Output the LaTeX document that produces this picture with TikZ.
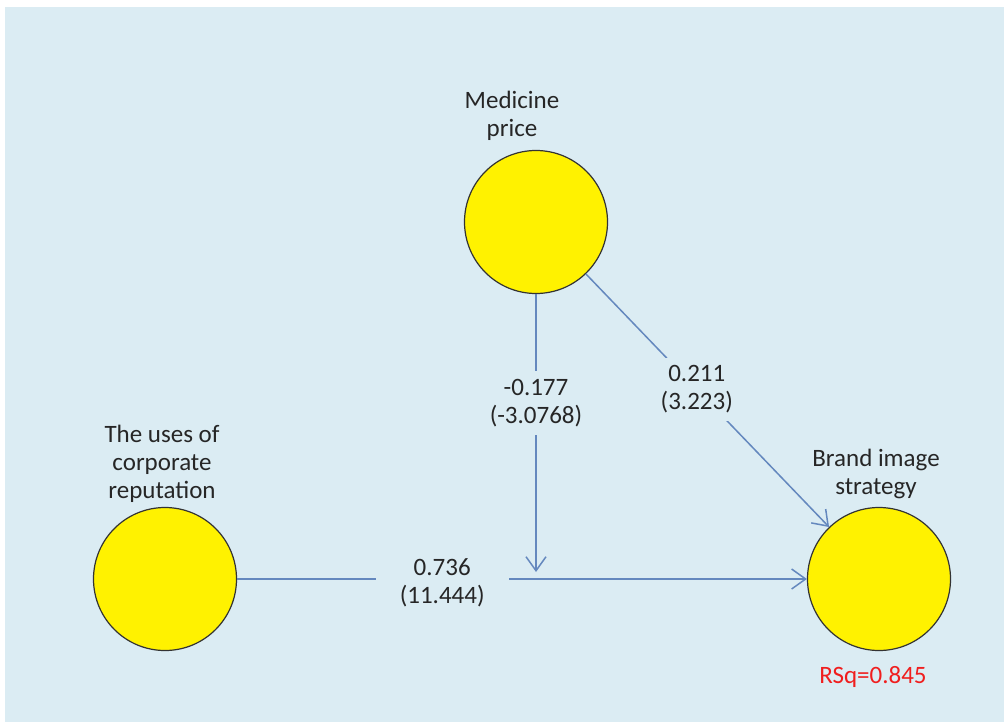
\documentclass[tikz,border=0pt]{standalone}
\usepackage{fontspec}
\setmainfont{Carlito}
\usetikzlibrary{arrows.meta,positioning}

\definecolor{bgblue}{RGB}{219,236,243}
\definecolor{pathblue}{RGB}{100,136,190}
\definecolor{rsqred}{RGB}{240,30,30}

\begin{document}
\begin{tikzpicture}[
  x=0.5pt, y=-0.5pt,
  every node/.style={font=\fontsize{12.5}{14}\selectfont, text=black!85},
  construct/.style={circle, draw=black!80, line width=0.6pt, fill=yellow,
    minimum size=71.5pt, inner sep=0pt},
  title/.style={align=center, inner sep=0pt},
  coef/.style={align=center, fill=bgblue, inner xsep=3pt, inner ysep=4pt},
  arr/.style={draw=pathblue, line width=0.75pt, -{Straight Barb[length=7pt,width=10pt]}}
]

% Background
\useasboundingbox (0,0) rectangle (1004,722);
\fill[bgblue] (5,7) rectangle (1004,722);

% Constructs
\node[construct] (price) at (536,222) {};
\node[construct] (uses) at (165,579) {};
\node[construct] (brand) at (879,579) {};

% Names
\node[title, above=4.5pt of price, xshift=-12pt] (pricename) {Medicine\\price};
\node[title, above=2pt of uses, xshift=-1.5pt] (usesname) {The uses of\\corporate\\reputation};
\node[title, above=4pt of brand, xshift=-1.5pt] (brandname) {Brand image\\strategy};
\node[title, text=rsqred, below=7.5pt of brand, xshift=-3pt] (rsq) {RSq=0.845};

% Paths
\coordinate (join) at (536,572);
\draw[arr] (uses) -- node[coef, pos=0.36, inner xsep=12pt, yshift=-2pt] {0.736\\(11.444)} (brand);
\draw[arr] (price) -- node[coef, pos=0.393] {-0.177\\(-3.0768)} (join);
\draw[arr] (price) -- node[coef, pos=0.456] {0.211\\(3.223)} (brand);

\end{tikzpicture}
\end{document}
